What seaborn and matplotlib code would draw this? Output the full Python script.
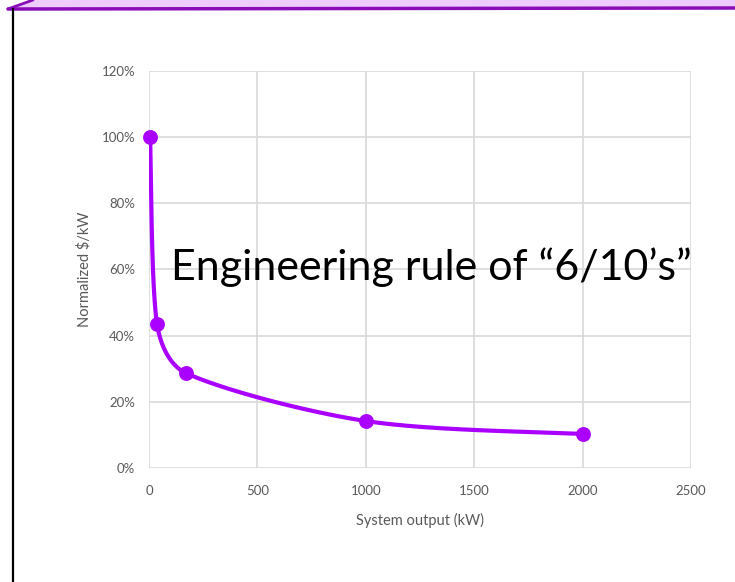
import numpy as np
import matplotlib
matplotlib.use("Agg")
import matplotlib.pyplot as plt
import seaborn as sns
from matplotlib.lines import Line2D
from matplotlib.patches import Polygon

# System size (kW) and normalized cost per kW
system_kw = [5, 37, 170, 1000, 2000]
norm_cost = [100, 43.5, 28.7, 14.2, 10.3]

x_ticks = [0, 500, 1000, 1500, 2000, 2500]
y_ticks = [0, 20, 40, 60, 80, 100, 120]
y_tick_labels = [f"{v}%" for v in y_ticks]

sns.set_theme(style="white")
plt.rcParams["font.family"] = ["Lato", "DejaVu Sans"]

PURPLE = "#AA00FF"
GRID = "#D9D9D9"
TICK = "#595959"

fig = plt.figure(figsize=(7.35, 5.82), dpi=100)
ax = fig.add_axes([0.2027, 0.1959, 0.9401 - 0.2027, 0.878 - 0.1959])

ax.set_xlim(0, 2500)
ax.set_ylim(0, 120)


def smooth_curve(xs, ys, sx, sy, n=80):
    """Bezier smoothing through the points (Catmull-Rom tangents, control arms
    limited to a third of each segment) computed in screen-scaled space."""
    pts = np.column_stack([np.asarray(xs, float) * sx, np.asarray(ys, float) * sy])
    m = len(pts)
    out = []
    for i in range(m - 1):
        p0 = pts[i - 1] if i > 0 else pts[i]
        p1 = pts[i]
        p2 = pts[i + 1]
        p3 = pts[i + 2] if i + 2 < m else pts[i + 1]
        seg_len = np.linalg.norm(p2 - p1)
        a1 = (p2 - p0) / 6.0
        a2 = (p3 - p1) / 6.0
        cap = seg_len / 3.0
        if np.linalg.norm(a1) > cap:
            a1 = a1 / np.linalg.norm(a1) * cap
        if np.linalg.norm(a2) > cap:
            a2 = a2 / np.linalg.norm(a2) * cap
        c1 = p1 + a1
        c2 = p2 - a2
        t = np.linspace(0, 1, n)[:, None]
        seg = ((1 - t) ** 3) * p1 + 3 * ((1 - t) ** 2) * t * c1 + 3 * (1 - t) * t ** 2 * c2 + t ** 3 * p2
        out.append(seg if not out else seg[1:])
    out = np.vstack(out)
    return out[:, 0] / sx, out[:, 1] / sy


# scale factors roughly matching the on-screen pixel extent of each axis
cx, cy = smooth_curve(system_kw, norm_cost, 542 / 2500, 397 / 120)
sns.lineplot(x=cx, y=cy, ax=ax, color=PURPLE, lw=3, sort=False, zorder=3)
sns.scatterplot(x=system_kw, y=norm_cost, ax=ax, color=PURPLE, s=115,
                edgecolor=PURPLE, linewidth=0, zorder=4, clip_on=False)

ax.set_xticks(x_ticks)
ax.set_yticks(y_ticks)
ax.set_yticklabels(y_tick_labels)
ax.tick_params(axis="both", colors=TICK, labelsize=9.5, length=0)
ax.tick_params(axis="y", pad=10)
ax.tick_params(axis="x", pad=12)
ax.grid(True, color=GRID, lw=1.2)
for s in ax.spines.values():
    s.set_visible(False)
ax.set_axisbelow(True)

ax.set_xlabel("System output (kW)", color=TICK, fontsize=10.5, labelpad=12)
ax.set_ylabel("Normalized $/kW", color=TICK, fontsize=10.5, labelpad=7)

ax.text(1.002, 0.4736, "Engineering rule of \u201c6/10\u2019s\u201d", transform=ax.transAxes,
        ha="right", va="baseline", fontsize=31, color="black", zorder=5)

# slide frame: purple banner along the top and a dark rule down the left edge
fig.patches.append(Polygon([[8 / 735, 1 - 9 / 582], [33 / 735, 1.0], [1.0, 1.0], [1.0, 1 - 8 / 582]],
                           closed=True, transform=fig.transFigure, facecolor="#EFCCFF",
                           edgecolor="none", zorder=0))
fig.add_artist(Line2D([8 / 735, 1.0], [1 - 9 / 582, 1 - 8 / 582], transform=fig.transFigure,
                      color="#8A0DB8", lw=2.5))
fig.add_artist(Line2D([8 / 735, 33 / 735], [1 - 9 / 582, 1.0], transform=fig.transFigure,
                      color="#8A0DB8", lw=2))
fig.add_artist(Line2D([12.5 / 735, 12.5 / 735], [0, 1 - 9 / 582], transform=fig.transFigure,
                      color="black", lw=1.6))

fig.savefig("out.png", dpi=100)
